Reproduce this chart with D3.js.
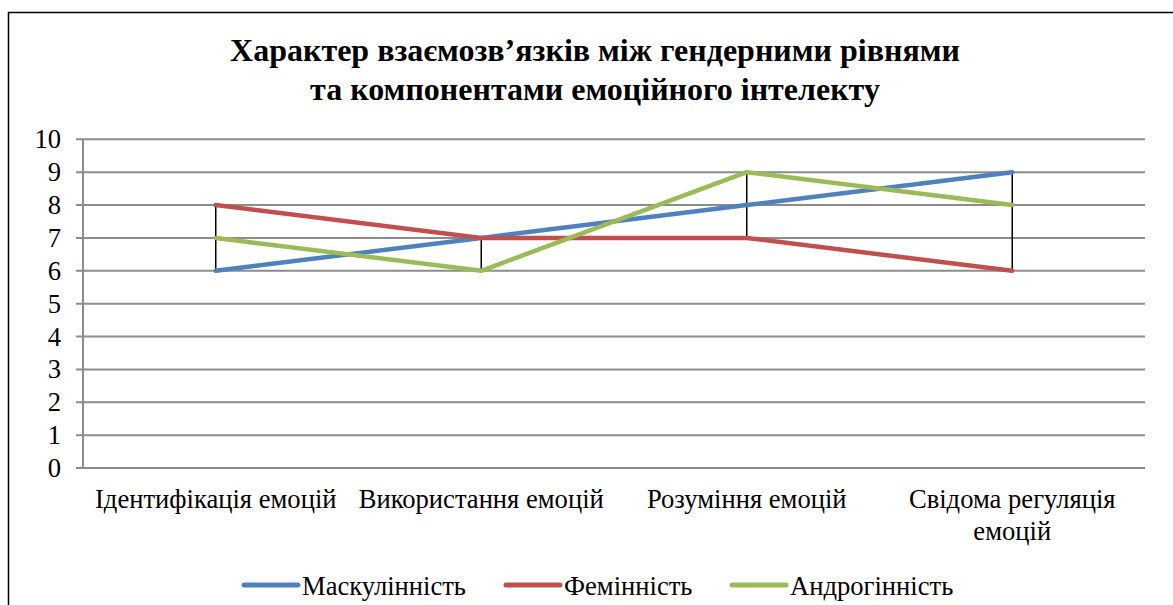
<!DOCTYPE html>
<html>
<head>
<meta charset="utf-8">
<script src="https://cdn.jsdelivr.net/npm/d3@7"></script>
<style>
  body { margin: 0; background: #fff; }
</style>
</head>
<body>
<div id="chart"></div>
<script>
var categories = ["Ідентифікація емоцій", "Використання емоцій", "Розуміння емоцій", "Свідома регуляція емоцій"];
var seriesNames = ["Маскулінність", "Фемінність", "Андрогінність"];
var masculinity = [6, 7, 8, 9];
var femininity = [8, 7, 7, 6];
var androgyny = [7, 6, 9, 8];
var yTicks = [0, 1, 2, 3, 4, 5, 6, 7, 8, 9, 10];
var titleLines = ["Характер взаємозв’язків між гендерними рівнями", "та компонентами емоційного інтелекту"];

var colors = ["#4F81BD", "#C0504D", "#9BBB59"];
var series = [masculinity, femininity, androgyny];

var width = 1173, height = 605;
var plotLeft = 83, plotRight = 1145, plotTop = 139.3, plotBottom = 468;
var font = "'Liberation Serif'";
var bodySize = 26.6;

var svg = d3.select("#chart").append("svg")
  .attr("width", width)
  .attr("height", height);

// chart frame (only left and top edges are in view)
svg.append("rect")
  .attr("x", 8.5)
  .attr("y", 12.5)
  .attr("width", 1300)
  .attr("height", 700)
  .attr("fill", "none")
  .attr("stroke", "#000")
  .attr("stroke-width", 1.5);

svg.selectAll(".title").data(titleLines).enter().append("text")
  .attr("class", "title")
  .attr("x", 595)
  .attr("y", function(d, i) { return 61 + i * 39; })
  .attr("text-anchor", "middle")
  .style("font-family", font)
  .style("font-size", "32px")
  .style("font-weight", "bold")
  .text(function(d) { return d; });

var x = d3.scaleBand().domain(categories).range([plotLeft, plotRight]);
var y = d3.scaleLinear().domain([0, 10]).range([plotBottom, plotTop]);

// gridlines
svg.append("g").selectAll("line").data(yTicks).enter().append("line")
  .attr("x1", plotLeft - 7)
  .attr("x2", plotRight)
  .attr("y1", function(d) { return y(d); })
  .attr("y2", function(d) { return y(d); })
  .attr("stroke", "#8c8c8c")
  .attr("stroke-width", 2);

// y axis line
svg.append("line")
  .attr("x1", plotLeft).attr("x2", plotLeft)
  .attr("y1", plotTop).attr("y2", plotBottom)
  .attr("stroke", "#8c8c8c")
  .attr("stroke-width", 2);

svg.append("g").selectAll("text").data(yTicks).enter().append("text")
  .attr("x", 61)
  .attr("y", function(d) { return y(d) + 9; })
  .attr("text-anchor", "end")
  .style("font-family", font)
  .style("font-size", bodySize + "px")
  .text(function(d) { return d; });

// category labels, wrapped to band width
function wrapLabel(label, maxW) {
  var words = label.split(" "), lines = [], cur = "";
  var probe = svg.append("text").style("font-family", font).style("font-size", bodySize + "px");
  words.forEach(function(w) {
    var t = cur ? cur + " " + w : w;
    probe.text(t);
    if (probe.node().getComputedTextLength() > maxW && cur) {
      lines.push(cur);
      cur = w;
    } else {
      cur = t;
    }
  });
  lines.push(cur);
  probe.remove();
  return lines;
}

categories.forEach(function(c) {
  var lines = wrapLabel(c, x.bandwidth() - 8);
  svg.append("text")
    .attr("text-anchor", "middle")
    .style("font-family", font)
    .style("font-size", bodySize + "px")
    .selectAll("tspan").data(lines).enter().append("tspan")
    .attr("x", x(c) + x.bandwidth() / 2)
    .attr("y", function(d, i) { return 508 + i * 32; })
    .text(function(d) { return d; });
});

// high-low lines
svg.append("g").selectAll("line").data(categories).enter().append("line")
  .attr("x1", function(d) { return x(d) + x.bandwidth() / 2; })
  .attr("x2", function(d) { return x(d) + x.bandwidth() / 2; })
  .attr("y1", function(d, i) { return y(d3.min(series, function(s) { return s[i]; })); })
  .attr("y2", function(d, i) { return y(d3.max(series, function(s) { return s[i]; })); })
  .attr("stroke", "#000")
  .attr("stroke-width", 1.5);

var line = d3.line()
  .x(function(d, i) { return x(categories[i]) + x.bandwidth() / 2; })
  .y(function(d) { return y(d); });

svg.append("g").selectAll("path").data(series).enter().append("path")
  .attr("d", line)
  .attr("fill", "none")
  .attr("stroke", function(d, i) { return colors[i]; })
  .attr("stroke-width", 4.5)
  .attr("stroke-linecap", "round")
  .attr("stroke-linejoin", "round");

// legend
var legendX = [244, 506, 732];
var legend = svg.append("g").selectAll("g").data(seriesNames).enter().append("g");

legend.append("line")
  .attr("x1", function(d, i) { return legendX[i]; })
  .attr("x2", function(d, i) { return legendX[i] + 54; })
  .attr("y1", 585)
  .attr("y2", 585)
  .attr("stroke", function(d, i) { return colors[i]; })
  .attr("stroke-width", 5)
  .attr("stroke-linecap", "round");

legend.append("text")
  .attr("x", function(d, i) { return legendX[i] + 58; })
  .attr("y", 595)
  .style("font-family", font)
  .style("font-size", bodySize + "px")
  .text(function(d) { return d; });
</script>
</body>
</html>
